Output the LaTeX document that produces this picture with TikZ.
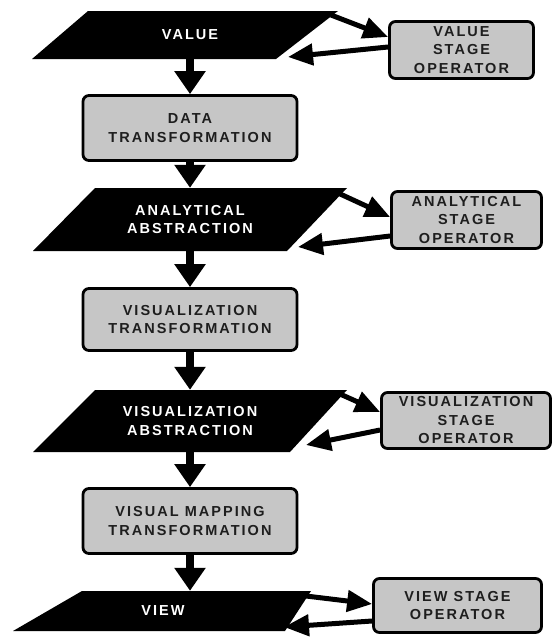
\documentclass[tikz,border=0pt]{standalone}
\usepackage{fontspec}
\setmainfont{Liberation Sans}
\newfontfamily\lblfont[LetterSpace=14]{Liberation Sans}
\usetikzlibrary{arrows.meta,calc}
\definecolor{boxgray}{RGB}{198,198,198}
\definecolor{boxtext}{RGB}{30,30,30}
\begin{document}
\begin{tikzpicture}[x=1pt,y=-1pt,
  lbl/.style={font=\lblfont\bfseries\fontsize{14.5}{18.5}\selectfont, align=center, inner sep=0pt},
  stagebox/.style={lbl, draw=black, line width=2.8pt, fill=boxgray, rounded corners=6pt, text=boxtext},
  paratext/.style={lbl, text=white, minimum width=200pt},
  down/.style={line width=7.5pt, -{Triangle[length=23pt,width=30pt]}},
  side/.style={line width=5pt, -{Triangle[length=25pt,width=21pt]}}]
\useasboundingbox (0,0) rectangle (555,637);
% parallelograms
\fill[black] (88,11) -- (338,11) -- (276,59) -- (32,59) -- cycle;
\fill[black] (95,188) -- (347,188) -- (287,251) -- (33,251) -- cycle;
\fill[black] (95,390) -- (347,390) -- (290,452) -- (33,452) -- cycle;
\fill[black] (82,591) -- (311,591) -- (285,631) -- (13,631) -- cycle;
% main column
\node[paratext, minimum height=48pt] (val) at (190,35) {VALUE};
\node[stagebox, minimum width=214pt, minimum height=65pt] (dt) at (190,128) {DATA\\TRANSFORMATION};
\node[paratext, minimum height=63pt] (aa) at (190,219.5) {ANALYTICAL\\ABSTRACTION};
\node[stagebox, minimum width=214pt, minimum height=62pt] (vt) at (190,319.5) {VISUALIZATION\\TRANSFORMATION};
\node[paratext, minimum height=62pt] (va) at (190,421) {VISUALIZATION\\ABSTRACTION};
\node[stagebox, minimum width=214pt, minimum height=65pt] (vm) at (190,521) {VISUAL MAPPING\\TRANSFORMATION};
\node[paratext, minimum width=100pt, minimum height=40pt] (view) at (163,611) {VIEW};
% operators
\node[stagebox, minimum width=144pt, minimum height=57pt] (vso) at (461.5,50) {VALUE\\STAGE\\OPERATOR};
\node[stagebox, minimum width=150pt, minimum height=57pt] (aso) at (466.5,220) {ANALYTICAL\\STAGE\\OPERATOR};
\node[stagebox, minimum width=169pt, minimum height=56pt] (zso) at (466,420.5) {VISUALIZATION\\STAGE\\OPERATOR};
\node[stagebox, minimum width=168pt, minimum height=54pt] (wso) at (457.5,605.5) {VIEW STAGE\\OPERATOR};
% vertical flow
\draw[down] (val.south) -- (dt.north);
\draw[down] (dt.south) -- (aa.north);
\draw[down] (aa.south) -- (vt.north);
\draw[down] (vt.south) -- (va.north);
\draw[down] (va.south) -- (vm.north);
\draw[down] (vm.south) -- (vm.south |- view.north);
% side loops
\coordinate (valout) at (331,15);
\coordinate (valin) at (288,57);
\coordinate (aaout) at (338,193);
\coordinate (aain) at (298,247);
\coordinate (vaout) at (340,394);
\coordinate (vain) at (306,445);
\coordinate (viewout) at (306,596);
\coordinate (viewin) at (284,627);
\draw[side] (valout) -- ([yshift=13pt]vso.west);
\draw[side] ([yshift=3pt]vso.west) -- (valin);
\draw[side] (aaout) -- ([yshift=3pt]aso.west);
\draw[side] ([yshift=-16pt]aso.west) -- (aain);
\draw[side] (vaout) -- ([yshift=8.5pt]zso.west);
\draw[side] ([yshift=-9.5pt]zso.west) -- (vain);
\draw[side] (viewout) -- ([yshift=1.5pt]wso.west);
\draw[side] ([yshift=-15.5pt]wso.west) -- (viewin);
\end{tikzpicture}
\end{document}
